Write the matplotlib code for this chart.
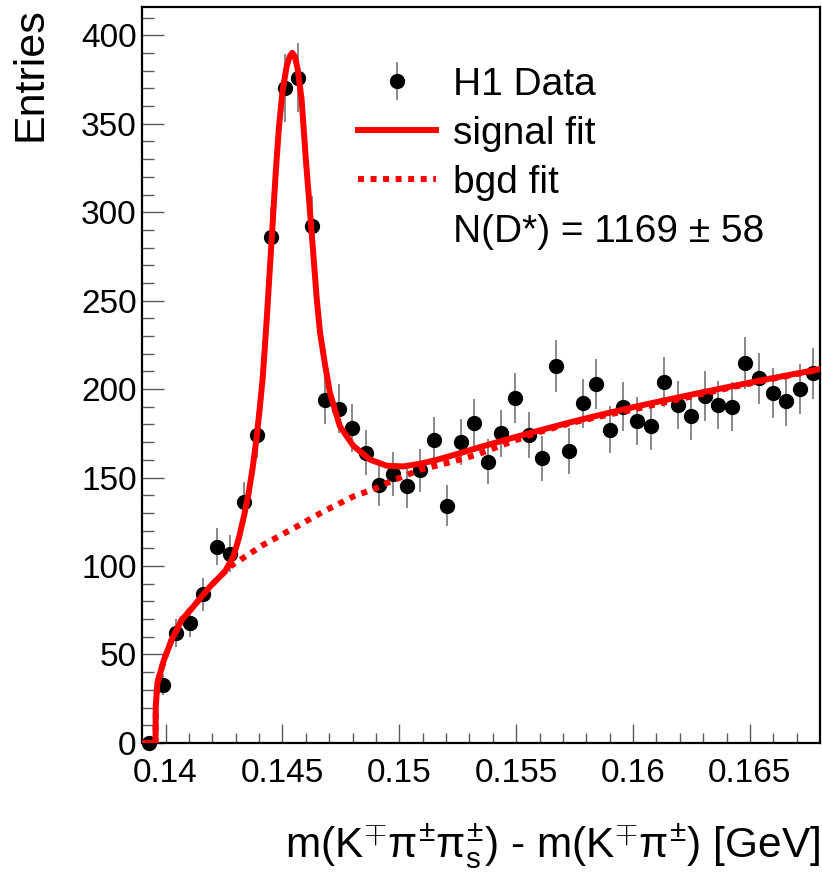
import numpy as np
import matplotlib
matplotlib.use("Agg")
import matplotlib.pyplot as plt
from matplotlib.lines import Line2D

plt.rcParams['font.family'] = ['Liberation Sans', 'DejaVu Sans']
plt.rcParams['mathtext.fontset'] = 'custom'
plt.rcParams['mathtext.rm'] = 'Liberation Sans'
plt.rcParams['mathtext.it'] = 'Liberation Sans'

# --- HISTOGRAM (50 bins, 0.139 - 0.168 GeV) ---
x_lo, x_hi, n_bins = 0.139, 0.168, 50
counts = [0, 33, 62, 68, 84, 111, 107, 136, 174, 286,
          370, 376, 292, 194, 189, 178, 164, 146, 152, 145,
          154, 171, 134, 170, 181, 159, 175, 195, 174, 161,
          213, 165, 192, 203, 177, 190, 182, 179, 204, 191,
          185, 196, 191, 190, 215, 206, 198, 193, 200, 209]

# --- FIT CURVES ---
sig_x = [0.1390, 0.13957, 0.13958, 0.13965, 0.13993, 0.14026, 0.14069, 0.14119,
         0.14190, 0.14254, 0.14290, 0.14314, 0.14335, 0.14355, 0.14372, 0.14388,
         0.14402, 0.14416, 0.14433, 0.14454, 0.14471, 0.14485, 0.14500, 0.14518,
         0.14531, 0.14542, 0.14553, 0.14565, 0.14582, 0.14600, 0.14625, 0.14647,
         0.14661, 0.14682, 0.14703, 0.14746, 0.14803, 0.14875, 0.14946, 0.15017,
         0.15088, 0.15160, 0.15260, 0.15345, 0.15445, 0.15588, 0.15730, 0.15871,
         0.16015, 0.16129, 0.16272, 0.16415, 0.16557, 0.16700, 0.16800]
sig_y = [0, 0, 20.5, 33.9, 46.9, 58.3, 69.6, 77.1,
         88.4, 96.9, 105.4, 116.0, 128.0, 141.0, 155.0, 171.0,
         188.0, 207.0, 240.0, 285.0, 322.0, 348.0, 368.0, 382.5,
         388.0, 390.1, 388.0, 381.0, 363.7, 330.0, 288.5, 250.6,
         231.9, 214.0, 198.0, 178.9, 168.0, 160.1, 156.7, 156.3,
         157.8, 160.0, 163.8, 167.2, 171.0, 176.2, 181.2, 185.8,
         190.2, 193.5, 197.5, 201.4, 205.2, 208.8, 211.3]

bg_x = [0.1390, 0.13957, 0.13958, 0.13965, 0.13993, 0.14026, 0.14069, 0.14119,
        0.14190, 0.14254, 0.14276, 0.14418, 0.14561, 0.14675, 0.14803, 0.14903,
        0.14946, 0.15088, 0.15231, 0.15331, 0.15445, 0.15588, 0.15730, 0.15871,
        0.16015, 0.16129, 0.16272, 0.16415, 0.16557, 0.16700, 0.16800]
bg_y = [0, 0, 20.5, 33.9, 46.9, 58.3, 69.6, 77.1,
        88.4, 96.9, 99.7, 112.0, 122.3, 130.8, 139.3, 144.1,
        146.9, 154.4, 159.1, 162.9, 168.6, 175.3, 180.7, 184.9,
        188.9, 192.3, 196.5, 200.8, 204.8, 208.5, 211.0]

n_dstar = "N(D*) = 1169 \u00b1 58"

edges = np.linspace(x_lo, x_hi, n_bins + 1)
centers = 0.5 * (edges[:-1] + edges[1:])
counts = np.array(counts, dtype=float)
errors = np.sqrt(counts)

fig = plt.figure(figsize=(8.22, 8.72), dpi=100)
ax = fig.add_axes([0.173, 0.148, 0.8246, 0.844])

data = ax.errorbar(centers, counts, yerr=errors, fmt='o', color='black',
                   ms=10, ecolor='0.5', elinewidth=1.3, capsize=0, zorder=3)
for art in data.lines[0:1] + tuple(data.lines[2]):
    art.set_clip_on(False)

bgd, = ax.plot(bg_x, bg_y, color='red', lw=4.3, linestyle=(0, (1, 1.1)), zorder=4)
sig, = ax.plot(sig_x, sig_y, color='red', lw=4.3, zorder=5)

ax.set_xlim(x_lo, x_hi)
ax.set_ylim(0, 416)
ax.set_xticks([0.14, 0.145, 0.15, 0.155, 0.16, 0.165])
ax.set_xticklabels(['0.14', '0.145', '0.15', '0.155', '0.16', '0.165'])
ax.set_xticks(np.arange(0.140, 0.168, 0.001), minor=True)
ax.set_yticks(np.arange(0, 401, 50))
ax.set_yticks(np.arange(0, 417, 10), minor=True)
ax.tick_params(which='both', direction='in', color='0.35', width=1,
               labelsize=24, top=False, right=False)
ax.tick_params(axis='y', which='major', length=16, pad=4)
ax.tick_params(axis='y', which='minor', length=8.5)
ax.tick_params(axis='x', which='major', length=14, pad=11)
ax.tick_params(axis='x', which='minor', length=7)
for sp in ax.spines.values():
    sp.set_linewidth(1.6)

ax.set_ylabel('Entries', fontsize=31, loc='top')
ax.yaxis.set_label_coords(-0.136, 1.0)
ax.set_xlabel(r'm(K$^{\mp}\pi^{\pm}\pi^{\pm}_{\mathrm{s}}$) - m(K$^{\mp}\pi^{\pm}$) [GeV]',
              fontsize=30.5, loc='right')
ax.xaxis.set_label_coords(1.0, -0.106)

blank = Line2D([], [], linestyle='none')
ax.legend([data, sig, bgd, blank], ['H1 Data', 'signal fit', 'bgd fit', n_dstar],
          loc='upper left', bbox_to_anchor=(0.436, 0.9236), bbox_transform=fig.transFigure,
          frameon=False, fontsize=28, handlelength=2.0, handletextpad=0.42,
          labelspacing=0.34, borderpad=0, borderaxespad=0)

fig.savefig('out.png', dpi=100)
